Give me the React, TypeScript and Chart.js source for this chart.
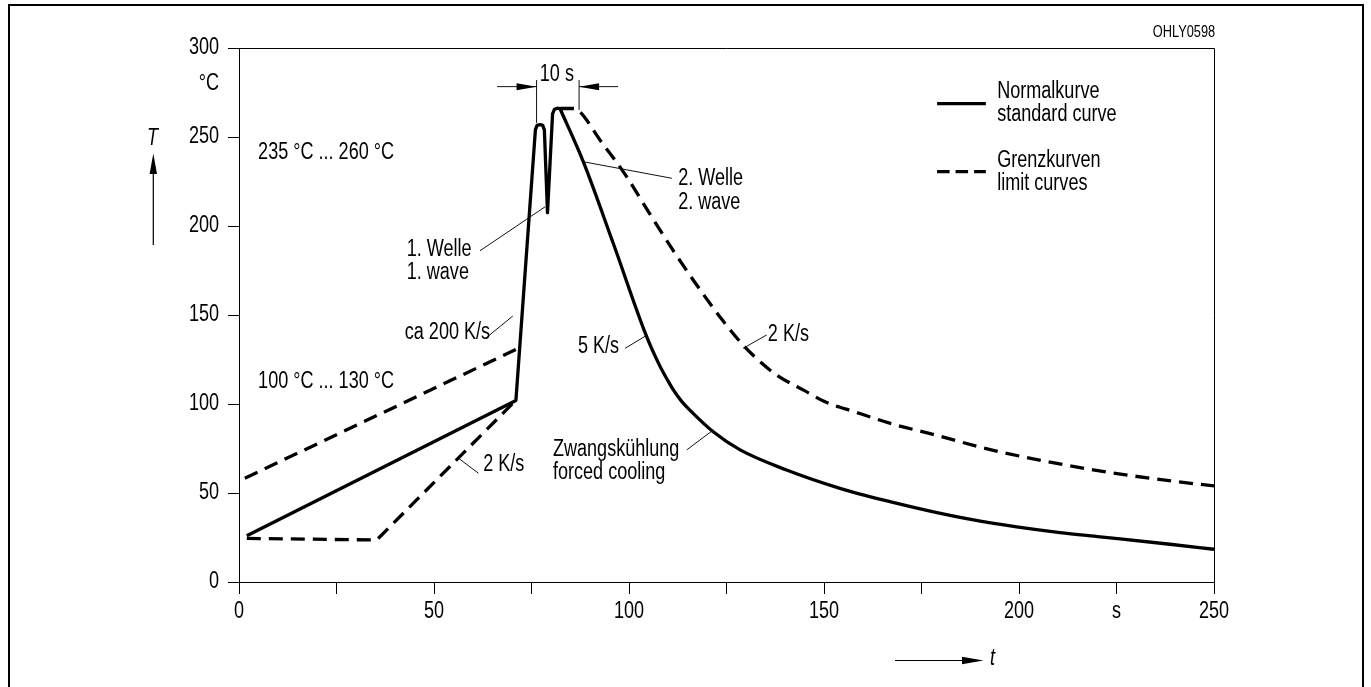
import React, { useEffect, useRef } from 'react';
import { Chart, registerables } from 'chart.js';

Chart.register(...registerables);

// ---------- data ----------
const X_MIN = 0;
const X_MAX = 250;
const X_STEP = 25;
const X_LABELED = [0, 50, 100, 150, 200, 250];
const X_UNIT_AT = 225;
const X_UNIT = 's';

const Y_TICKS = [0, 50, 100, 150, 200, 250, 300];
const Y_UNIT_AT = 280;
const Y_UNIT = '°C';

// Normalkurve / standard curve: preheating and the two waves
const standardHeatT = [2, 71, 76.0, 76.4, 77.2, 77.9, 78.3, 79.1, 80.4, 80.9, 81.6, 82.3];
const standardHeatY = [26, 102, 254, 256.5, 257, 256.5, 254, 207.5, 263, 265.6, 266.2, 266];
// Normalkurve / standard curve: cooling
const standardCoolT = [82.3, 88.3, 96, 104.5, 108, 110, 111.5, 113.5, 115.6, 121.6, 128.5, 140.4, 154.1, 166.9, 177.2, 188, 199.4, 210.5, 220.8, 238.7, 250];
const standardCoolY = [266, 236, 190, 138, 121, 113, 107.5, 101.5, 96.6, 84.4, 74.2, 62.9, 52.6, 45.1, 39.8, 35, 31, 27.8, 25.4, 21.2, 18.4];

// Grenzkurven / limit curves
const upperHeatT = [1.5, 72.5];
const upperHeatY = [58.3, 132.2];
const upperCoolT = [82.3, 85.8, 87, 93, 99, 105, 111.4, 117, 124, 129.5, 134, 138, 145, 150, 158, 168, 177, 193.4, 219, 240, 250];
const upperCoolY = [266, 266, 265, 247, 229, 208, 186, 168, 147, 132.5, 123, 116, 107.5, 101.5, 95.5, 88.5, 83.5, 74, 63, 56.5, 54];
const lowerHeatT = [2, 35.3, 70.5];
const lowerHeatY = [24.5, 23.6, 101];

// ---------- texts ----------
const LEGEND_SOLID = ['Normalkurve', 'standard curve'];
const LEGEND_DASHED = ['Grenzkurven', 'limit curves'];
const DRAWING_ID = 'OHLY0598';

// annotation placement (data coordinates: t in s, T in °C)
const NOTES: { text: string; t: number; v: number; align?: CanvasTextAlign }[] = [
  { text: '235 °C ... 260 °C', t: 4.9, v: 241 },
  { text: '100 °C ... 130 °C', t: 4.9, v: 112.5 },
  { text: '1. Welle', t: 43.0, v: 186.5 },
  { text: '1. wave', t: 43.0, v: 173.6 },
  { text: '2. Welle', t: 112.6, v: 226.8 },
  { text: '2. wave', t: 112.6, v: 213.0 },
  { text: 'ca 200 K/s', t: 42.5, v: 139.9 },
  { text: '2 K/s', t: 62.6, v: 66.0 },
  { text: '5 K/s', t: 86.9, v: 132.2 },
  { text: 'Zwangskühlung', t: 80.5, v: 74.2 },
  { text: 'forced cooling', t: 80.5, v: 61.2 },
  { text: '2 K/s', t: 135.6, v: 138.8 },
  { text: '10 s', t: 81.5, v: 285.0, align: 'center' },
];
const LEADERS: number[][] = [
  [88.3, 236.1, 111.0, 226.8],
  [78.5, 210.8, 61.8, 186.1],
  [63.2, 136.9, 70.2, 149.4],
  [61.4, 61.1, 56.3, 69.5],
  [99.0, 131.3, 104.7, 138.8],
  [114.8, 74.2, 121.6, 85.4],
  [135.3, 138.8, 129.3, 131.3],
];

const FONT = "'Liberation Sans', Arial, sans-serif";
const FS = 23;
const SX = 0.785; // horizontal condensing of the narrow typeface
const X_TICK_LEN = 12;
const X_TICK_PAD = 4;
const Y_TICK_LEN = 11;
const Y_TICK_PAD = 9;

const pts = (ts: number[], vs: number[]) => ts.map((t, i) => ({ x: t, y: vs[i] }));
const xLabel = (v: number) => (X_LABELED.includes(v) ? String(v) : v === X_UNIT_AT ? X_UNIT : '');
const yLabel = (v: number) => (v === Y_UNIT_AT ? Y_UNIT : String(v));

function text(ctx: CanvasRenderingContext2D, s: string, x: number, y: number, align: CanvasTextAlign, font: string, sx = SX) {
  ctx.save();
  ctx.translate(x, y);
  ctx.scale(sx, 1);
  ctx.font = font;
  ctx.textAlign = align;
  ctx.textBaseline = 'middle';
  ctx.fillText(s, 0, 0);
  ctx.restore();
}

const annotate = {
  id: 'annotate',
  afterDraw(chart: any) {
    const { ctx, chartArea: ca, scales } = chart;
    const sx = scales.x;
    const sy = scales.y;
    const px = (t: number) => sx.getPixelForValue(t);
    const py = (v: number) => sy.getPixelForValue(v);
    const font = `${FS}px ${FONT}`;
    ctx.save();
    ctx.fillStyle = '#000';

    // outer frame
    ctx.strokeStyle = '#000';
    ctx.lineWidth = 2;
    ctx.strokeRect(9, 5, 1354, 720);

    // plot box top/right
    ctx.lineWidth = 1;
    ctx.beginPath();
    ctx.moveTo(ca.left, Math.round(ca.top) + 0.5);
    ctx.lineTo(Math.round(ca.right) + 0.5, Math.round(ca.top) + 0.5);
    ctx.lineTo(Math.round(ca.right) + 0.5, ca.bottom);
    ctx.stroke();

    // tick labels from the scales' ticks
    const xLabelY = sx.top + X_TICK_LEN + X_TICK_PAD + (FS * 1.2) / 2;
    for (const tk of sx.ticks) {
      const s = xLabel(tk.value);
      if (s) text(ctx, s, px(tk.value), xLabelY, 'center', font);
    }
    const yLabelX = sy.right - Y_TICK_LEN - Y_TICK_PAD;
    for (const tk of sy.ticks) {
      text(ctx, yLabel(tk.value), yLabelX, py(tk.value), 'right', font);
    }

    for (const n of NOTES) text(ctx, n.text, px(n.t), py(n.v), n.align || 'left', font);

    // leader lines
    ctx.lineWidth = 1;
    ctx.strokeStyle = '#111';
    for (const [t1, v1, t2, v2] of LEADERS) {
      ctx.beginPath();
      ctx.moveTo(px(t1), py(v1));
      ctx.lineTo(px(t2), py(v2));
      ctx.stroke();
    }

    // 10 s dimension
    const dl = px(76.3), dr = px(87.2), dy = py(278.3);
    ctx.beginPath();
    ctx.moveTo(dl, py(282)); ctx.lineTo(dl, py(257.9));
    ctx.moveTo(dr, py(282)); ctx.lineTo(dr, py(265.2));
    ctx.moveTo(px(66.2), dy); ctx.lineTo(dl, dy);
    ctx.moveTo(dr, dy); ctx.lineTo(px(97.2), dy);
    ctx.stroke();
    ctx.beginPath();
    ctx.moveTo(dl, dy); ctx.lineTo(dl - 20, dy - 3.5); ctx.lineTo(dl - 20, dy + 3.5); ctx.closePath();
    ctx.moveTo(dr, dy); ctx.lineTo(dr + 20, dy - 3.5); ctx.lineTo(dr + 20, dy + 3.5); ctx.closePath();
    ctx.fill();

    // legend
    const lx1 = px(179.0), lx2 = px(191.5), ltx = px(194.4);
    ctx.strokeStyle = '#000';
    ctx.lineWidth = 3.3;
    ctx.lineCap = 'butt';
    ctx.beginPath();
    ctx.moveTo(lx1, py(268.8)); ctx.lineTo(lx2, py(268.8));
    ctx.stroke();
    ctx.setLineDash([12.5, 6]);
    ctx.beginPath();
    ctx.moveTo(lx1, py(230.6)); ctx.lineTo(lx2, py(230.6));
    ctx.stroke();
    ctx.setLineDash([]);
    text(ctx, LEGEND_SOLID[0], ltx, py(275.3), 'left', font);
    text(ctx, LEGEND_SOLID[1], ltx, py(262.4), 'left', font);
    text(ctx, LEGEND_DASHED[0], ltx, py(236.8), 'left', font);
    text(ctx, LEGEND_DASHED[1], ltx, py(223.9), 'left', font);

    // drawing id
    text(ctx, DRAWING_ID, px(250.3), py(308.4), 'right', `16px ${FONT}`, 0.8);

    // axis arrows and symbols
    const ifont = `italic ${FS}px ${FONT}`;
    text(ctx, 'T', 152.5, 138.5, 'center', ifont);
    const ax = 153.3;
    ctx.lineWidth = 1.2;
    ctx.beginPath();
    ctx.moveTo(ax, 172); ctx.lineTo(ax, 245);
    ctx.stroke();
    ctx.beginPath();
    ctx.moveTo(ax, 153.5); ctx.lineTo(ax - 3.7, 174); ctx.lineTo(ax + 3.7, 174); ctx.closePath();
    ctx.fill();

    const ay = 660.5;
    ctx.beginPath();
    ctx.moveTo(895, ay); ctx.lineTo(964, ay);
    ctx.stroke();
    ctx.beginPath();
    ctx.moveTo(983.5, ay); ctx.lineTo(962, ay - 3.7); ctx.lineTo(962, ay + 3.7); ctx.closePath();
    ctx.fill();
    text(ctx, 't', 990, 659, 'left', ifont);

    ctx.restore();
  },
};

export default function App() {
  const ref = useRef<HTMLCanvasElement>(null);

  useEffect(() => {
    if (!ref.current) return;
    const solid = { borderColor: '#000', borderWidth: 3.3, pointRadius: 0, fill: false, borderJoinStyle: 'round' as const };
    const dashed = { ...solid, borderDash: [14, 8] };
    const chart = new Chart(ref.current, {
      type: 'line',
      data: {
        datasets: [
          { ...solid, label: 'Normalkurve', data: pts(standardHeatT, standardHeatY), tension: 0 },
          { ...solid, label: 'Normalkurve', data: pts(standardCoolT, standardCoolY), cubicInterpolationMode: 'monotone' },
          { ...dashed, label: 'Grenzkurven', data: pts(upperHeatT, upperHeatY), tension: 0 },
          { ...dashed, label: 'Grenzkurven', data: pts(upperCoolT, upperCoolY), cubicInterpolationMode: 'monotone' },
          { ...dashed, label: 'Grenzkurven', data: pts(lowerHeatT, lowerHeatY), tension: 0 },
        ] as any,
      },
      options: {
        responsive: false,
        animation: false,
        events: [],
        layout: { padding: { left: 0, right: 157, top: 48, bottom: 0 } },
        plugins: { legend: { display: false }, tooltip: { enabled: false } },
        scales: {
          x: {
            type: 'linear',
            min: X_MIN,
            max: X_MAX,
            afterFit: (s: any) => { s.height = 105; },
            afterBuildTicks: (s: any) => {
              const ticks = [];
              for (let v = X_MIN; v <= X_MAX; v += X_STEP) ticks.push({ value: v });
              s.ticks = ticks;
            },
            grid: { drawOnChartArea: false, drawTicks: true, tickLength: X_TICK_LEN, color: '#000', tickColor: '#000', lineWidth: 1 },
            border: { display: true, color: '#000', width: 1 },
            ticks: { display: false, autoSkip: false, maxRotation: 0, callback: (v: any) => xLabel(v) },
          },
          y: {
            type: 'linear',
            min: Y_TICKS[0],
            max: Y_TICKS[Y_TICKS.length - 1],
            afterFit: (s: any) => { s.width = 239; },
            afterBuildTicks: (s: any) => {
              s.ticks = [...Y_TICKS, Y_UNIT_AT].sort((a, b) => a - b).map((v) => ({ value: v }));
            },
            grid: {
              drawOnChartArea: false,
              drawTicks: true,
              tickLength: Y_TICK_LEN,
              color: '#000',
              lineWidth: 1,
              tickColor: (c: any) => (c.tick && c.tick.value === Y_UNIT_AT ? 'rgba(0,0,0,0)' : '#000'),
            },
            border: { display: true, color: '#000', width: 1 },
            ticks: { display: false, autoSkip: false, callback: (v: any) => yLabel(v) },
          },
        },
      },
      plugins: [annotate],
    } as any);
    return () => chart.destroy();
  }, []);

  return (
    <div style={{ position: 'fixed', left: 0, top: 0, width: 1371, height: 687, background: '#fff' }}>
      <canvas ref={ref} width={1371} height={687} style={{ width: 1371, height: 687, display: 'block' }} />
    </div>
  );
}
